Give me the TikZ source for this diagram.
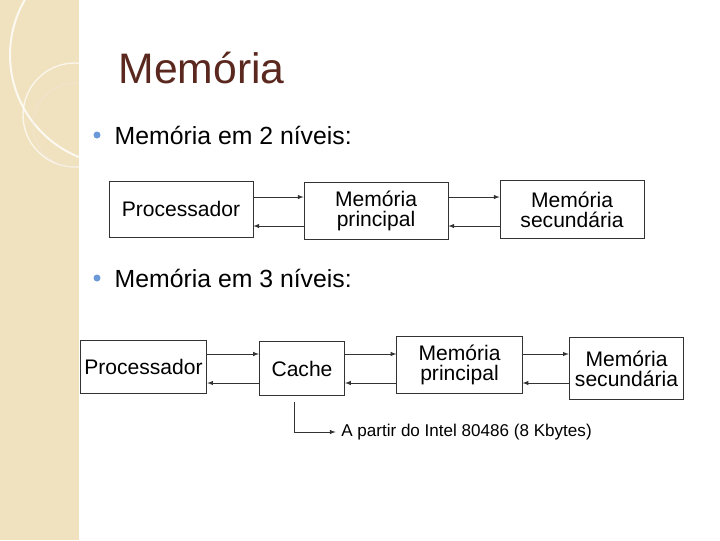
\documentclass[tikz,border=0pt]{standalone}
\usepackage{fontspec}
\setmainfont{Liberation Sans}
\begin{document}
\begin{tikzpicture}[x=0.75pt,y=-0.75pt,
  box/.style={draw=black!80,line width=0.6pt,fill=white,align=center,inner sep=0pt,font=\fontsize{15.8}{15}\selectfont},
  arr/.style={->,>=latex,line width=0.5pt,black!80},
  bul/.style={anchor=west,font=\fontsize{18.6}{18}\selectfont}]
\useasboundingbox (0,0) rectangle (720,540);
\fill[white] (0,0) rectangle (720,540);
\fill[fill={rgb,255:red,240;green,226;blue,190}] (0,0) rectangle (79,540);
\begin{scope}
\clip (0,0) rectangle (79,540);
\draw[white,line width=1.5pt,opacity=0.8] (120,55) circle (110);
\draw[white,line width=1pt,opacity=0.7] (75,115) circle (52);
\draw[white!80!brown,line width=0.8pt,opacity=0.6] (75,125) circle (42);
\end{scope}
\node[anchor=west,text={rgb,255:red,90;green,40;blue,30},font=\fontsize{32}{32}\selectfont] (title) at (114,68) {Memória};
\fill[cyan!50!blue!60] (97,135) circle (3.5);
\node[bul] (b1) at (110,135) {Memória em 2 níveis:};
\fill[cyan!50!blue!60] (97,278) circle (3.5);
\node[bul] (b2) at (110,278) {Memória em 3 níveis:};
% row 1
\node[box,minimum width=108pt,minimum height=42pt] (p1) at (181,209) {Processador};
\node[box,minimum width=108pt,minimum height=43pt] (m1) at (376,211) {Memória\\principal};
\node[box,minimum width=108pt,minimum height=44pt] (s1) at (572,209.5) {Memória\\secundária};
\draw[arr] (p1.east|-0,197) -- (m1.west|-0,197);
\draw[arr] (m1.west|-0,226) -- (p1.east|-0,226);
\draw[arr] (m1.east|-0,197) -- (s1.west|-0,197);
\draw[arr] (s1.west|-0,226) -- (m1.east|-0,226);
% row 2
\node[box,minimum width=95pt,minimum height=40pt] (p2) at (143.5,367) {Processador};
\node[box,minimum width=64pt,minimum height=41pt] (c2) at (302,368.5) {Cache};
\node[box,minimum width=94pt,minimum height=43pt] (m2) at (459.5,365) {Memória\\principal};
\node[box,minimum width=86pt,minimum height=46pt] (s2) at (626.5,368.5) {Memória\\secundária};
\draw[arr] (p2.east|-0,354) -- (c2.west|-0,354);
\draw[arr] (c2.west|-0,383) -- (p2.east|-0,383);
\draw[arr] (c2.east|-0,354) -- (m2.west|-0,354);
\draw[arr] (m2.west|-0,383) -- (c2.east|-0,383);
\draw[arr] (m2.east|-0,354) -- (s2.west|-0,354);
\draw[arr] (s2.west|-0,383) -- (m2.east|-0,383);
\node[anchor=west,inner sep=0pt,font=\fontsize{12.8}{12}\selectfont] (note) at (341,432) {A partir do Intel 80486 (8 Kbytes)};
\coordinate (cb) at (294,402);
\draw[arr] (cb) |- ([xshift=-4pt]note.west);
\end{tikzpicture}
\end{document}
